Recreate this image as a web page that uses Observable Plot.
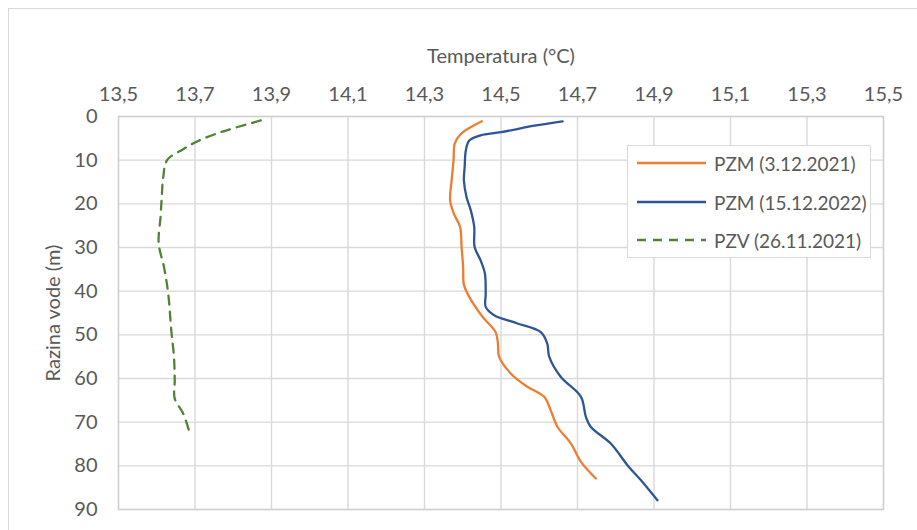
<!DOCTYPE html>
<html><head><meta charset="utf-8">
<script src="https://cdn.jsdelivr.net/npm/d3@7"></script>
<script src="https://cdn.jsdelivr.net/npm/@observablehq/plot@0.6"></script>
<style>
body{margin:0;background:#fff;font-family:Lato,"Open Sans",sans-serif;}
#wrap{position:relative;width:917px;height:530px;overflow:hidden;}
#border{position:absolute;left:8px;top:8px;width:940px;height:560px;border:1px solid #d9d9d9;}
#chart{position:absolute;left:0;top:0;}
#legend{position:absolute;left:627px;top:145px;width:244px;height:113px;border:1px solid #d9d9d9;background:#fff;box-sizing:border-box;}
.row{position:absolute;left:9px;height:20px;display:flex;align-items:center;color:#595959;font-size:19px;white-space:nowrap;}
.row svg{margin-right:7px;flex:none;}
</style></head>
<body>
<div id="wrap"><div id="border"></div><div id="chart"></div><div id="legend"></div></div>
<script>
const seriesNames = ["PZM (3.12.2021)", "PZM (15.12.2022)", "PZV (26.11.2021)"];
const seriesColors = ["#ED7D31", "#2F5597", "#548235"];
const seriesDash = [null, null, "9,7"];

const depthPZM2021 = [1.1, 4, 6.2, 10, 14.6, 19.2, 22.3, 25.3, 29.9, 34.5, 38.5, 41.3, 45.9, 49.4, 52, 55, 58.9, 61.9, 64.2, 67.3, 71.1, 74.9, 79.1, 82.9];
const tempPZM2021 = [14.45, 14.395, 14.379, 14.376, 14.371, 14.367, 14.377, 14.393, 14.397, 14.401, 14.403, 14.417, 14.452, 14.486, 14.492, 14.495, 14.526, 14.569, 14.613, 14.63, 14.648, 14.683, 14.709, 14.748];

const depthPZM2022 = [1.1, 2.1, 3.6, 4.3, 5.5, 7.8, 11.6, 14.6, 18.5, 21.5, 25.3, 29.9, 33, 36, 40.6, 43.6, 45.5, 47.4, 49.4, 52, 55, 59.6, 64.2, 68.8, 71.1, 74.9, 79.9, 83.3, 87.9];
const tempPZM2022 = [14.661, 14.587, 14.5, 14.447, 14.417, 14.408, 14.405, 14.403, 14.41, 14.421, 14.43, 14.431, 14.447, 14.458, 14.46, 14.46, 14.482, 14.543, 14.604, 14.621, 14.626, 14.656, 14.709, 14.722, 14.735, 14.787, 14.831, 14.866, 14.909];

const depthPZV2021 = [0.9, 2.7, 4, 5.6, 7.6, 10, 13.9, 18.5, 23, 29, 34.5, 40.6, 49, 55, 60.4, 64.6, 68, 73];
const tempPZV2021 = [13.872, 13.80, 13.754, 13.708, 13.667, 13.627, 13.617, 13.613, 13.61, 13.605, 13.619, 13.63, 13.638, 13.645, 13.647, 13.647, 13.669, 13.688];

const xTicks = [13.5, 13.7, 13.9, 14.1, 14.3, 14.5, 14.7, 14.9, 15.1, 15.3, 15.5];
const yTicks = [0, 10, 20, 30, 40, 50, 60, 70, 80, 90];
const xTitle = "Temperatura (°C)";
const yTitle = "Razina vode (m)";

const depths = [depthPZM2021, depthPZM2022, depthPZV2021];
const temps = [tempPZM2021, tempPZM2022, tempPZV2021];
const rows = [];
seriesNames.forEach((s, i) => depths[i].forEach((d, j) => rows.push({series: s, depth: d, temp: temps[i][j]})));

const fmt = d => d.toFixed(1).replace(".", ",");
const textColor = "#595959";

const lineMarks = seriesNames.map((s, i) => Plot.line(rows.filter(r => r.series === s), {
  x: "temp", y: "depth", stroke: seriesColors[i], strokeWidth: 2.3,
  strokeDasharray: seriesDash[i] || undefined, curve: "catmull-rom"
}));

const chart = Plot.plot({
  width: 917, height: 530,
  marginLeft: 118, marginRight: 34, marginTop: 116, marginBottom: 21,
  style: {fontFamily: "Lato, 'Open Sans', sans-serif", fontSize: "20px", background: "transparent", overflow: "visible"},
  x: {domain: [13.5, 15.5]},
  y: {domain: [0, 90], reverse: true},
  marks: [
    Plot.gridX(xTicks, {stroke: "#d9d9d9", strokeOpacity: 1, strokeWidth: 1.4}),
    Plot.gridY(yTicks, {stroke: "#d9d9d9", strokeOpacity: 1, strokeWidth: 1.4}),
    Plot.frame({stroke: "#d0d0d0", strokeWidth: 1.4}),
    ...lineMarks,
    Plot.axisX(xTicks, {anchor: "top", tickSize: 0, tickPadding: 16, tickFormat: fmt, fill: textColor,
      label: xTitle, labelAnchor: "center", labelArrow: "none", labelOffset: 68}),
    Plot.axisY(yTicks, {anchor: "left", tickSize: 0, tickPadding: 21, tickFormat: d => String(d), fill: textColor,
      label: yTitle, labelAnchor: "center", labelArrow: "none", labelOffset: 73})
  ]
});
document.getElementById("chart").appendChild(chart);

const legend = document.getElementById("legend");
const rowTops = [7, 46, 84];
seriesNames.forEach((s, i) => {
  const r = document.createElement("div");
  r.className = "row";
  r.style.top = rowTops[i] + "px";
  r.innerHTML = `<svg width="70" height="6"><line x1="0" y1="3" x2="69" y2="3" stroke="${seriesColors[i]}" stroke-width="2.3" ${seriesDash[i] ? `stroke-dasharray="${seriesDash[i]}"` : ""}/></svg><span>${s}</span>`;
  legend.appendChild(r);
});
</script>
</body></html>
